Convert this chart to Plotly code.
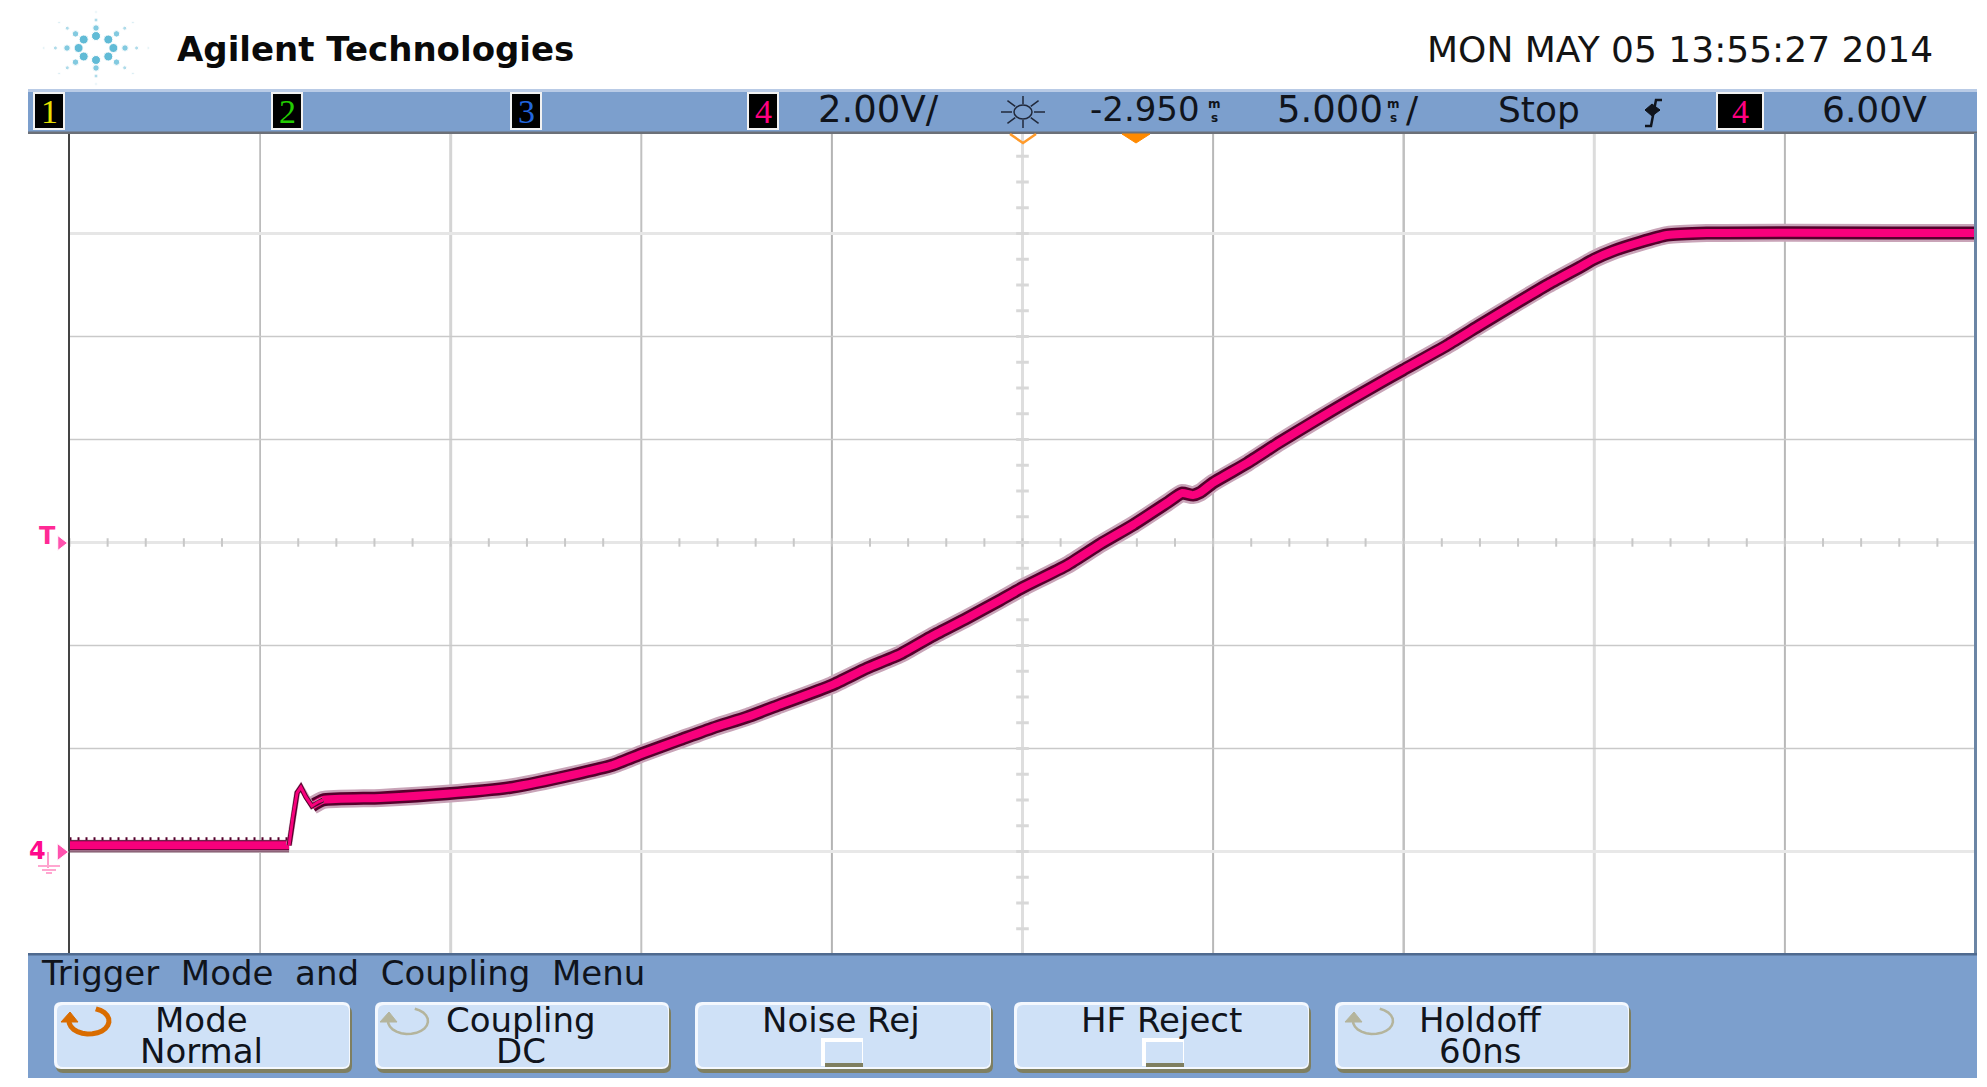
import numpy as np
import plotly.graph_objects as go

# trace values, time in ms and channel 4 volts
baseline_t = [-27.95, -22.19]
baseline_v = [0.12, 0.12]
baseline_low_v = [0.03, 0.03]
baseline_noise_v = [0.25, 0.25]
edge_t = [-22.19, -22.09, -21.98, -21.88, -21.75, -21.59, -21.43, -21.30]
edge_v = [0.12, 0.67, 1.14, 1.25, 1.06, 0.885, 0.96, 1.00]
ramp_t = [-21.59, -21.30, -19.80, -18.05, -16.32, -14.74, -13.69, -12.90, -11.93, -11.07, -10.18, -9.39,
          -7.95, -7.03, -6.16, -5.30, -4.41, -3.54, -2.96, -1.78, -0.91, -0.05, 0.84, 1.23, 1.52, 1.71,
          2.05, 2.94, 3.80, 4.67, 5.56, 6.43, 7.03, 8.19, 9.05, 9.92, 10.81, 11.68, 12.04, 12.54, 13.25,
          13.96, 15.00, 22.05]
ramp_v = [0.885, 1.00, 1.04, 1.12, 1.25, 1.49, 1.68, 1.91, 2.17, 2.40, 2.61, 2.83,
          3.23, 3.56, 3.83, 4.19, 4.53, 4.88, 5.12, 5.56, 5.97, 6.34, 6.77, 6.96, 6.92, 6.97,
          7.16, 7.54, 7.95, 8.34, 8.73, 9.10, 9.35, 9.83, 10.22, 10.61, 11.00, 11.35, 11.50, 11.66, 11.83,
          11.97, 12.01, 12.01]

# scope settings
t_center = -2.95
t_per_div = 5.0
v_per_div = 2.0
v_center = 6.0

# pixels of the screenshot
W, H = 1987, 1087
LEFT, RIGHT = 69.5, 1975.5
TOP, BOTTOM = 133, 954.5
PX_PER_VOLT = 51.5
ZERO_Y = 851.5

BLUE = "#7c9fcd"
BTN = "#cfe1f7"
OLIVE = "#7f7f60"
PINK = "#f8007c"
TEXT = "#10141c"
FONT = "DejaVu Sans"

t_left = t_center - 5 * t_per_div
t_right = t_center + 5 * t_per_div
v_bottom = (ZERO_Y - BOTTOM) / PX_PER_VOLT
v_top = (ZERO_Y - TOP) / PX_PER_VOLT

fig = go.Figure()


def box(x0, y0, x1, y1, fill, line=None, width=0):
    fig.add_shape(type="rect", xref="x2", yref="y2", x0=x0, y0=y0, x1=x1, y1=y1, fillcolor=fill,
                  line=dict(color=line or fill, width=width))


def path(d, color=None, width=0, fill=None):
    fig.add_shape(type="path", xref="x2", yref="y2", path=d, fillcolor=fill,
                  line=dict(color=color or "rgba(0,0,0,0)", width=width))


def label(x, y, text, size=30, color=TEXT, anchor="center", family=FONT):
    fig.add_annotation(xref="x2", yref="y2", x=x, y=y, text=text, showarrow=False, xanchor=anchor,
                       yanchor="middle", font=dict(family=family, size=size, color=color))


def round_rect(x0, y0, x1, y1, r):
    return (f"M{x0 + r},{y0} L{x1 - r},{y0} Q{x1},{y0} {x1},{y0 + r} L{x1},{y1 - r} Q{x1},{y1} {x1 - r},{y1} "
            f"L{x0 + r},{y1} Q{x0},{y1} {x0},{y1 - r} L{x0},{y0 + r} Q{x0},{y0} {x0 + r},{y0} Z")


# grid, each line has its own look because the screenshot was resampled
grid_div = [1, 2, 3, 4, 6, 7, 8, 9]
grid_div_color = ["#b0b0b0", "#d4d4d4", "#c0c0c0", "#b4b4b4", "#b8b8b8", "#c0c0c0", "#dcdcdc", "#b8b8b8"]
grid_div_width = [1.5, 3, 2, 2, 2, 2.5, 3, 2]
for d, c, w in zip(grid_div, grid_div_color, grid_div_width):
    t = t_left + d * t_per_div
    fig.add_shape(type="line", x0=t, x1=t, yref="y domain", y0=0, y1=1, line=dict(color=c, width=w), layer="below")

grid_volts = [12, 10, 8, 4, 2, 0]
grid_volts_color = ["#e6e6e6", "#c9c9c9", "#c9c9c9", "#c9c9c9", "#c9c9c9", "#e8e8e8"]
grid_volts_width = [3, 1.5, 1.5, 1.5, 1.5, 3]
for v, c, w in zip(grid_volts, grid_volts_color, grid_volts_width):
    fig.add_shape(type="line", xref="x domain", x0=0, x1=1, y0=v, y1=v, line=dict(color=c, width=w), layer="below")

# centre cross with its minor ticks
fig.add_shape(type="line", x0=t_center, x1=t_center, yref="y domain", y0=0, y1=1,
              line=dict(color="#dedede", width=3), layer="below")
fig.add_shape(type="line", xref="x domain", x0=0, x1=1, y0=v_center, y1=v_center,
              line=dict(color="#e6e6e6", width=3), layer="below")
tick_t = np.arange(t_left, t_right + 0.01, t_per_div / 5)
tick_v = np.arange(-2, 14.01, v_per_div / 4)
fig.add_trace(go.Scatter(x=tick_t, y=[v_center] * len(tick_t), mode="markers", hoverinfo="skip",
                         marker=dict(symbol="line-ns", size=6, line=dict(color="#c8c8c8", width=2))))
fig.add_trace(go.Scatter(x=[t_center] * len(tick_v), y=tick_v, mode="markers", hoverinfo="skip",
                         marker=dict(symbol="line-ew", size=9, line=dict(color="#d8d8d8", width=3))))

# channel 4, drawn as pale halo, dark edge and bright core
fig.add_trace(go.Scatter(x=baseline_t, y=baseline_low_v, mode="lines", hoverinfo="skip",
                         line=dict(color="#8d6479", width=5)))
for xs, ys, widths, shape in [(baseline_t, baseline_v, (11, 10, 8), "linear"),
                              (ramp_t, ramp_v, (18, 13, 8), "spline"),
                              (edge_t, edge_v, (6, 5, 3), "linear")]:
    for w, c in zip(widths, ["#c9a4b8", "#55002c", PINK]):
        fig.add_trace(go.Scatter(x=xs, y=ys, mode="lines", name="Ch 4",
                                 line=dict(color=c, width=w, shape=shape, smoothing=0.5)))
fig.add_trace(go.Scatter(x=baseline_t, y=baseline_noise_v, mode="lines", hoverinfo="skip",
                         line=dict(color="#55002c", width=3, dash="2px 6px")))

# ----- instrument chrome, in screen pixels -----
box(28, 89, 1977, 133, BLUE)
box(28, 89, 1977, 92, "#b9cbe6")
box(28, 131.5, 1977, 134, "#6c7078")
box(28, 953, 1977, 1078, BLUE)
box(28, 953, 1977, 955.5, "#4f6a8f")
fig.add_shape(type="line", xref="x2", yref="y2", x0=RIGHT, x1=RIGHT, y0=TOP, y1=953,
              line=dict(color="#6b85a5", width=3))

# logo
logo_x, logo_y, logo_s, logo_c = [], [], [], []
for r, s, c in zip([12, 20, 28, 36], [9, 6.5, 4, 2.5], ["#1f9fc6", "#4fb5d3", "#8ccde2", "#c4e5ef"]):
    for a in np.arange(8) * np.pi / 4:
        logo_x.append(96 + 1.45 * r * np.cos(a))
        logo_y.append(48 + r * np.sin(a))
        logo_s.append(s)
        logo_c.append(c)
fig.add_trace(go.Scatter(x=logo_x, y=logo_y, xaxis="x2", yaxis="y2", mode="markers", hoverinfo="skip",
                         marker=dict(size=logo_s, color=logo_c, symbol="circle")))
label(175, 49, "<b>Agilent Technologies</b>", size=34, color="#0a0a0a", anchor="left")
label(1425, 49, "MON MAY 05 13:55:27 2014", size=36, color="#141414", anchor="left")

# channel badges
badge_x = [49, 287, 526, 763]
badge_digit = ["1", "2", "3", "4"]
badge_color = ["#e8e000", "#22cc00", "#2266dd", "#ff0080"]
for x, dgt, c in zip(badge_x, badge_digit, badge_color):
    box(x - 15, 93, x + 15, 129, "#000000", "#f2f2f2", 2)
    label(x, 111, dgt, size=34, color=c, family="Liberation Sans Narrow")
box(1717, 93, 1763, 129, "#000000", "#f2f2f2", 2)
label(1740, 111, "4", size=34, color="#ff0080", family="Liberation Sans Narrow")

# status bar
label(816, 109, "2.00V/", size=37, anchor="left")
label(1088, 109, "-2.950", size=34, anchor="left")
label(1275, 109, "5.000", size=37, anchor="left")
for x in [1214, 1393]:
    label(x, 104, "<b>m</b>", size=12)
    label(x, 118, "<b>s</b>", size=12)
label(1404, 109, "/", size=36, anchor="left")
label(1496, 109, "Stop", size=36, anchor="left")
label(1820, 109, "6.00V", size=36, anchor="left")

# sun icon
for a in np.arange(8) * np.pi / 4:
    fig.add_shape(type="line", xref="x2", yref="y2", x0=1023 + 11 * np.cos(a), y0=112 + 8 * np.sin(a),
                  x1=1023 + 22 * np.cos(a), y1=112 + 16 * np.sin(a), line=dict(color="#20283a", width=1.5))
fig.add_shape(type="circle", xref="x2", yref="y2", x0=1014, y0=105, x1=1032, y1=119,
              line=dict(color="#20283a", width=1.5))

# trigger edge icon
path("M1662,100 L1656,100 L1651,126 L1645,126", "#10141c", 2.5)
path("M1645,110 L1660,110 L1652,104 Z M1645,110 L1660,110 L1652,116 Z", "#10141c", 1, "#10141c")

# orange delay markers
path("M1122,134 L1150,134 L1136,143 Z", "#ff8a00", 1, "#ff8a00")
path("M1010,134 L1023,143 L1036,134", "#ff9a2a", 2.5)

# trigger level and ground markers
label(47, 536, "<b>T</b>", size=24, color="#ff2a95")
label(37, 851, "<b>4</b>", size=24, color="#ff0a8c")
fig.add_trace(go.Scatter(x=[61, 61], y=[543, 852], xaxis="x2", yaxis="y2", mode="markers", hoverinfo="skip",
                         marker=dict(symbol="triangle-right", size=[13, 15], color="#ff0a8c")))
path("M48,852 L48,868", "#ff9ccb", 2)
path("M38,866 L60,866 M42,870 L56,870 M46,873 L52,873", "#ffa6d0", 2)

# softkey menu
label(39, 973, "Trigger\u00a0 Mode\u00a0 and\u00a0 Coupling\u00a0 Menu", size=34, anchor="left")

button_x0 = [54, 375, 695, 1014, 1335]
button_x1 = [351, 670, 992, 1310, 1630]
button_line1 = ["Mode", "Coupling", "Noise Rej", "HF Reject", "Holdoff"]
button_line2 = ["Normal", "DC", "", "", "60ns"]
button_cx = [201, 521, 841, 1161, 1480]
for x0, x1, a, b, cx in zip(button_x0, button_x1, button_line1, button_line2, button_cx):
    path(round_rect(x0 + 2, 1006, x1 + 1, 1073, 7), fill=OLIVE)
    path(round_rect(x0, 1002, x1 - 1, 1069, 7), fill="#f4f8fe")
    path(round_rect(x0 + 3, 1005, x1 - 2, 1067, 6), fill=BTN)
    label(cx, 1020, a, size=34)
    if b:
        label(cx, 1051, b, size=34)

# empty check boxes
for x0 in [821, 1142]:
    box(x0, 1038, x0 + 42, 1066, "#ffffff")
    box(x0 + 4, 1042, x0 + 41, 1063, BTN)
    box(x0 + 4, 1063, x0 + 42, 1067, OLIVE)

# rotary icons
rotary_x = [89, 408, 1373]
rotary_color = ["#d96c00", "#b4b49c", "#b4b49c"]
rotary_width = [5, 2.5, 2.5]
for x, c, w in zip(rotary_x, rotary_color, rotary_width):
    a = np.radians(np.arange(-70, 200, 15))
    pts = " L".join(f"{x + 20 * np.cos(k):.1f},{1021 + 13 * np.sin(k):.1f}" for k in a)
    path("M" + pts, c, w)
    path(f"M{x - 28},1022 L{x - 11},1022 L{x - 19},1012 Z", c, 1, c)

fig.update_layout(
    width=W, height=H, margin=dict(l=0, r=0, t=0, b=0), showlegend=False,
    paper_bgcolor="#ffffff", plot_bgcolor="rgba(0,0,0,0)", hovermode="closest",
    xaxis=dict(domain=[LEFT / W, RIGHT / W], range=[t_left, t_right], showgrid=False, zeroline=False,
               showticklabels=False, ticks=""),
    yaxis=dict(domain=[1 - BOTTOM / H, 1 - TOP / H], range=[v_bottom, v_top], showgrid=False, zeroline=False,
               showticklabels=False, ticks="", showline=True, linecolor="#444444", linewidth=2),
    xaxis2=dict(domain=[0, 1], range=[0, W], anchor="y2", visible=False, fixedrange=True),
    yaxis2=dict(domain=[0, 1], range=[H, 0], anchor="x2", visible=False, fixedrange=True),
)

fig.write_html("out.html", config={"displayModeBar": False}, post_script="document.body.style.margin='0';")
